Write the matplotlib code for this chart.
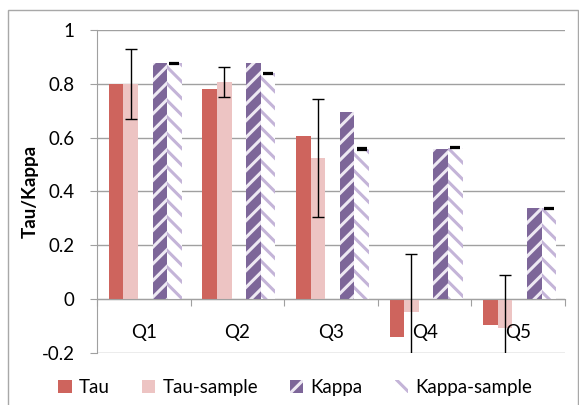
#Grouped bar chart of Tau / Kappa per question, with sample error bars
import matplotlib.pyplot as plt
import matplotlib.patches as mpatches
import numpy as np

plt.rcParams['font.family'] = ['Lato', 'DejaVu Sans']
plt.rcParams['hatch.linewidth'] = 2.2

#Data
questions = ["Q1", "Q2", "Q3", "Q4", "Q5"]
tau = [0.80, 0.78, 0.605, -0.14, -0.097]
tau_sample = [0.80, 0.807, 0.525, -0.047, -0.107]
tau_sample_err = [0.13, 0.055, 0.22, 0.214, 0.197]
kappa = [0.876, 0.876, 0.697, 0.558, 0.338]
kappa_sample = [0.876, 0.84, 0.558, 0.563, 0.338]
kappa_sample_err = [0.002, 0.002, 0.002, 0.002, 0.002]
yticks = [-0.2, 0, 0.2, 0.4, 0.6, 0.8, 1]

#Colors
c_tau = "#CE645D"
c_tau_s = "#EDC4C3"
c_kappa = "#7D6699"
c_kappa_s = "#C4B4D8"

fs = 13.5

fig = plt.figure(figsize=(5.79, 4.05), dpi=100)
#outer chart frame
fig.patches.append(mpatches.Rectangle((8 / 579, -0.01), 570 / 579, 1 - 10 / 405 + 0.01,
                                      transform=fig.transFigure, fill=False,
                                      edgecolor="#A8A8A8", linewidth=1))

ax = fig.add_axes([97 / 579, 1 - 353 / 405, 468 / 579, 323 / 405])

x = np.arange(len(questions))
w = 0.156
start = 0.125
ax.bar(x + start, tau, w, align="edge", color=c_tau, linewidth=0, label="Tau", zorder=2)
ax.bar(x + start + w, tau_sample, w, align="edge", color=c_tau_s, linewidth=0,
       label="Tau-sample", zorder=2)
ax.bar(x + start + 3 * w, kappa, w, align="edge", facecolor=c_kappa, edgecolor="#EEE9F3",
       hatch="//", linewidth=0, label="Kappa", zorder=2)
ax.bar(x + start + 4 * w, kappa_sample, w, align="edge", facecolor="white",
       edgecolor=c_kappa_s, hatch="\\\\", linewidth=0, label="Kappa-sample", zorder=2)

ax.errorbar(x + start + 1.5 * w, tau_sample, yerr=tau_sample_err, fmt="none",
            ecolor="black", elinewidth=1, capsize=4, capthick=1, zorder=3)
ax.errorbar(x + start + 4.5 * w, kappa_sample, yerr=kappa_sample_err, fmt="none",
            ecolor="black", elinewidth=1, capsize=3.5, capthick=1.6, zorder=3)

ax.set_xlim(0, len(questions))
ax.set_ylim(-0.2, 1)
ax.set_yticks(yticks)
ax.set_yticklabels(["-0.2", "0", "0.2", "0.4", "0.6", "0.8", "1"], fontsize=fs)
ax.yaxis.grid(True, color="#A0A0A0", linewidth=1)
ax.set_axisbelow(True)

ax.spines["bottom"].set_position(("data", 0))
ax.spines["bottom"].set_color("#A0A0A0")
ax.spines["left"].set_color("#A0A0A0")
ax.spines["top"].set_visible(False)
ax.spines["right"].set_visible(False)
ax.set_xticks(np.arange(len(questions) + 1))
ax.set_xticklabels([])
ax.tick_params(axis="x", direction="out", length=5, color="#A0A0A0")
ax.tick_params(axis="y", direction="out", length=5, color="#A0A0A0", pad=11)

for i, q in enumerate(questions):
    ax.text(i + 0.5, -0.125, q, ha="center", va="center", fontsize=fs)

ax.set_ylabel("Tau/Kappa", fontsize=fs, fontweight="bold", labelpad=2)

fig.legend(loc="center", bbox_to_anchor=(0.51, 0.042), ncol=4, frameon=False,
           fontsize=fs, handlelength=0.7, handleheight=0.7, handletextpad=0.4,
           columnspacing=1.7)

plt.savefig("out.png", dpi=100)
